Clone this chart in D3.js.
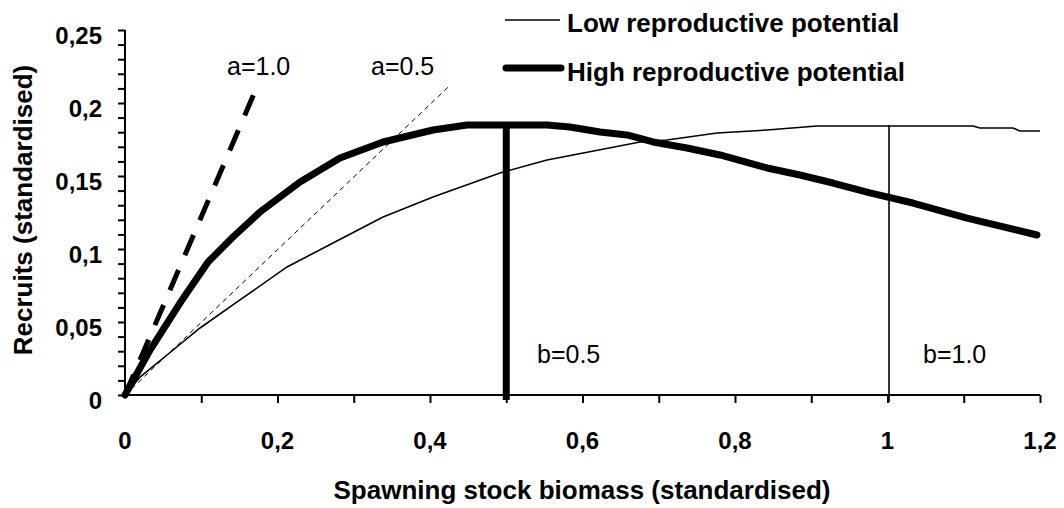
<!DOCTYPE html>
<html>
<head>
<meta charset="utf-8">
<script src="https://cdn.jsdelivr.net/npm/d3@7"></script>
<style>
  html, body { margin: 0; padding: 0; background: #fff; }
  svg { display: block; font-family: "Liberation Sans", Arial, sans-serif; }
</style>
</head>
<body>
<svg id="chart" width="1064" height="508"></svg>
<script>
// ---- data ----
const lowSSB =     [0, 0.0197, 0.0551, 0.0984, 0.1508, 0.2125, 0.2728, 0.3384, 0.4039, 0.4918, 0.5534, 0.5875, 0.6754, 0.7108, 0.7764, 0.842, 0.9075, 1.1121, 1.1213, 1.1646, 1.1738, 1.2];
const lowRecruits =[0, 0.0123, 0.0274, 0.0459, 0.0651, 0.0877, 0.1041, 0.1219, 0.1356, 0.1521, 0.1610, 0.1644, 0.1733, 0.1747, 0.1795, 0.1815, 0.1842, 0.1842, 0.1829, 0.1829, 0.1808, 0.1808];

const highSSB =     [0, 0.0328, 0.0721, 0.1089, 0.1416, 0.177, 0.2295, 0.282, 0.3384, 0.4039, 0.4485, 0.5534, 0.5836, 0.623, 0.6584, 0.6925, 0.737, 0.7803, 0.842, 0.8852, 0.9285, 0.977, 1.0334, 1.1043, 1.196];
const highRecruits =[0, 0.0308, 0.0630, 0.0911, 0.1082, 0.1253, 0.1459, 0.1623, 0.1733, 0.1815, 0.1849, 0.1849, 0.1836, 0.1801, 0.1781, 0.1733, 0.1692, 0.1644, 0.1555, 0.1507, 0.1452, 0.1384, 0.1315, 0.1212, 0.1096];

const slopeA1SSB = [0, 0.173];
const slopeA1Rec = [0, 0.211];
const slopeA05SSB = [0, 0.424];
const slopeA05Rec = [0, 0.211];

const bHalf = [0.5, 0.185];   // x, top
const bOne  = [1.002, 0.185];

const xTicks = [0, 0.2, 0.4, 0.6, 0.8, 1, 1.2];
const xTickLabels = ["0", "0,2", "0,4", "0,6", "0,8", "1", "1,2"];
const yTicks = [0, 0.05, 0.1, 0.15, 0.2, 0.25];
const yTickLabels = ["0", "0,05", "0,1", "0,15", "0,2", "0,25"];

const legendLabels = ["Low reproductive potential", "High reproductive potential"];
const xTitle = "Spawning stock biomass (standardised)";
const yTitle = "Recruits (standardised)";

// ---- layout ----
const svg = d3.select("#chart");
const x = d3.scaleLinear().domain([0, 1.2]).range([125, 1040]);
const y = d3.scaleLinear().domain([0, 0.25]).range([395, 30]);

const line = d3.line().x(d => x(d[0])).y(d => y(d[1]));
const zip = (a, b) => a.map((v, i) => [v, b[i]]);

// axes
const xAxis = d3.axisBottom(x).tickValues(d3.range(1, 13).map(i => i / 10)).tickSize(8).tickFormat("");
const gx = svg.append("g").attr("transform", `translate(0,${y(0)})`).call(xAxis);
gx.select(".domain").attr("d", `M${x(0)},0H${x(1.2)}`);
const yAxis = d3.axisLeft(y).tickValues(d3.range(0, 26).map(i => i / 100)).tickSize(7).tickFormat("");
const gy = svg.append("g").attr("transform", `translate(${x(0)},0)`).call(yAxis);
gy.select(".domain").attr("d", `M0,${y(0.25)}V${y(0)}`);
svg.selectAll(".domain").attr("stroke", "#000").attr("stroke-width", 2);
svg.selectAll(".tick line").attr("stroke", "#000").attr("stroke-width", 2);

// tick labels
svg.append("g").selectAll("text").data(xTicks).join("text")
  .attr("x", d => x(d)).attr("y", 449)
  .attr("text-anchor", "middle").attr("font-weight", "bold").attr("font-size", 24)
  .text((d, i) => xTickLabels[i]);
svg.append("g").selectAll("text").data(yTicks).join("text")
  .attr("x", 102).attr("y", d => y(d) + 14)
  .attr("text-anchor", "end").attr("font-weight", "bold").attr("font-size", 24)
  .text((d, i) => yTickLabels[i]);

// titles
svg.append("text").attr("x", 582).attr("y", 499).attr("text-anchor", "middle")
  .attr("font-weight", "bold").attr("font-size", 26).text(xTitle);
svg.append("text").attr("transform", "translate(32,210) rotate(-90)").attr("text-anchor", "middle")
  .attr("font-weight", "bold").attr("font-size", 26).text(yTitle);

// lines
const plot = svg.append("g").attr("fill", "none").attr("stroke", "#000");
plot.append("path").attr("d", line(zip(slopeA05SSB, slopeA05Rec))).attr("stroke-width", 1).attr("stroke-dasharray", "5,4");
plot.append("path").attr("d", line(zip(slopeA1SSB, slopeA1Rec))).attr("stroke-width", 5).attr("stroke-dasharray", "22,16");
plot.append("path").attr("d", line(zip(lowSSB, lowRecruits))).attr("stroke-width", 1.6);
plot.append("path").attr("d", line(zip(highSSB, highRecruits))).attr("stroke-width", 7)
  .attr("stroke-linejoin", "round").attr("stroke-linecap", "round");
plot.append("line").attr("x1", x(bHalf[0])).attr("x2", x(bHalf[0]))
  .attr("y1", y(bHalf[1])).attr("y2", y(0) + 5).attr("stroke-width", 7);
plot.append("line").attr("x1", x(bOne[0])).attr("x2", x(bOne[0]))
  .attr("y1", y(bOne[1])).attr("y2", y(0) + 7).attr("stroke-width", 1.6);

// annotations
const ann = svg.append("g").attr("font-size", 25);
ann.append("text").attr("x", 227).attr("y", 75).text("a=1.0");
ann.append("text").attr("x", 371).attr("y", 75).text("a=0.5");
ann.append("text").attr("x", 537).attr("y", 363).text("b=0.5");
ann.append("text").attr("x", 923).attr("y", 363).text("b=1.0");

// legend
const leg = svg.append("g");
leg.append("line").attr("x1", 505).attr("x2", 560).attr("y1", 20).attr("y2", 20).attr("stroke", "#000").attr("stroke-width", 1.6);
leg.append("line").attr("x1", 506).attr("x2", 561).attr("y1", 68).attr("y2", 68).attr("stroke", "#000").attr("stroke-width", 7).attr("stroke-linecap", "round");
leg.append("text").attr("x", 567).attr("y", 32).attr("font-weight", "bold").attr("font-size", 26).text(legendLabels[0]);
leg.append("text").attr("x", 567).attr("y", 81).attr("font-weight", "bold").attr("font-size", 26).text(legendLabels[1]);
</script>
</body>
</html>
